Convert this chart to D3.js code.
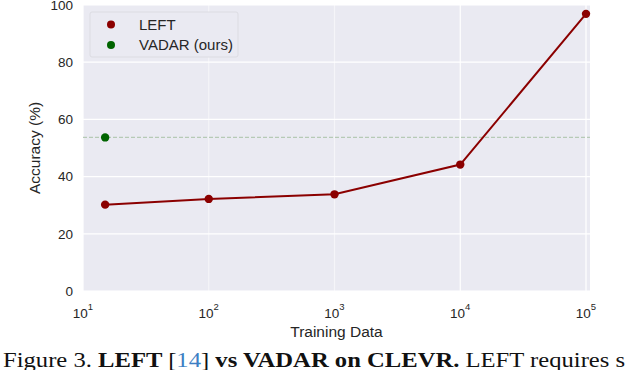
<!DOCTYPE html>
<html>
<head>
<meta charset="utf-8">
<script src="https://cdn.jsdelivr.net/npm/d3@7"></script>
<style>
  body { margin: 0; background: #fff; }
  svg { display: block; }
</style>
</head>
<body>
<div id="svg-area"></div>
<script>
// Data
var leftData = [15, 100, 1000, 10000, 100000];
var leftAcc = [30.2, 32.2, 33.8, 44.2, 96.9];
var vadarData = [15];
var vadarAcc = [53.7];
var yTicks = [0, 20, 40, 60, 80, 100];
var xTickExp = [1, 2, 3, 4, 5];
var legendLabels = ["LEFT", "VADAR (ours)"];

var svgWidth = 632;
var svgHeight = 370;
var margin = { top: 5, right: 42, bottom: 79, left: 83 };
var chartWidth = svgWidth - margin.left - margin.right;
var chartHeight = svgHeight - margin.top - margin.bottom;

var sans = "Liberation Sans, Arial, sans-serif";

var svg = d3.select("#svg-area")
  .append("svg")
  .attr("width", svgWidth)
  .attr("height", svgHeight);

var chartGroup = svg.append("g")
  .attr("transform", `translate(${margin.left}, ${margin.top})`);

// Scales
var xScale = d3.scaleLog()
  .domain([10, Math.pow(10, 5 + 4 / 125.8)])
  .range([0, chartWidth]);

var yScale = d3.scaleLinear()
  .domain([0, 100])
  .range([chartHeight, 0]);

// background
chartGroup.append("rect")
  .attr("width", chartWidth)
  .attr("height", chartHeight)
  .attr("fill", "#eaeaf2");

// grid lines
chartGroup.selectAll(".hgrid")
  .data(yTicks)
  .enter()
  .append("line")
  .attr("x1", 0)
  .attr("x2", chartWidth)
  .attr("y1", d => yScale(d))
  .attr("y2", d => yScale(d))
  .attr("stroke", "#fff")
  .attr("stroke-width", 1.2);

chartGroup.selectAll(".vgrid")
  .data(xTickExp)
  .enter()
  .append("line")
  .attr("x1", d => xScale(Math.pow(10, d)))
  .attr("x2", d => xScale(Math.pow(10, d)))
  .attr("y1", 0)
  .attr("y2", chartHeight)
  .attr("stroke", "#fff")
  .attr("stroke-opacity", d => (d == 2 || d == 3 ? 0.5 : 1))
  .attr("stroke-width", 1.2);

// y tick labels
chartGroup.selectAll(".ylab")
  .data(yTicks)
  .enter()
  .append("text")
  .attr("x", -10)
  .attr("y", d => yScale(d))
  .attr("dy", "0.35em")
  .attr("text-anchor", "end")
  .attr("font-family", sans)
  .attr("font-size", 13.5)
  .attr("fill", "#262626")
  .text(d => d);

// x tick labels 10^n
var xLab = chartGroup.selectAll(".xlab")
  .data(xTickExp)
  .enter()
  .append("text")
  .attr("x", d => xScale(Math.pow(10, d)))
  .attr("y", chartHeight + 27)
  .attr("text-anchor", "middle")
  .attr("font-family", sans)
  .attr("font-size", 13.5)
  .attr("fill", "#262626");
xLab.append("tspan").text("10");
xLab.append("tspan")
  .attr("dy", -8)
  .attr("font-size", 9.5)
  .text(d => d);

// axis titles
chartGroup.append("text")
  .attr("x", chartWidth / 2)
  .attr("y", chartHeight + 46)
  .attr("text-anchor", "middle")
  .attr("font-family", sans)
  .attr("font-size", 15.5)
  .attr("fill", "#262626")
  .text("Training Data");

chartGroup.append("text")
  .attr("transform", `translate(-43, ${chartHeight / 2}) rotate(-90)`)
  .attr("text-anchor", "middle")
  .attr("font-family", sans)
  .attr("font-size", 15.5)
  .attr("fill", "#262626")
  .text("Accuracy (%)");

// dashed reference line at VADAR accuracy
chartGroup.append("line")
  .attr("x1", 0)
  .attr("x2", chartWidth)
  .attr("y1", yScale(vadarAcc[0]))
  .attr("y2", yScale(vadarAcc[0]))
  .attr("stroke", "#b6cab6")
  .attr("stroke-width", 1.3)
  .attr("stroke-dasharray", "4,2");

// LEFT line
var leftPts = leftData.map((d, i) => [d, leftAcc[i]]);
var line = d3.line()
  .x(d => xScale(d[0]))
  .y(d => yScale(d[1]));

chartGroup.append("path")
  .datum(leftPts)
  .attr("d", line)
  .attr("fill", "none")
  .attr("stroke", "#8b0000")
  .attr("stroke-width", 2);

chartGroup.selectAll(".leftdot")
  .data(leftPts)
  .enter()
  .append("circle")
  .attr("cx", d => xScale(d[0]))
  .attr("cy", d => yScale(d[1]))
  .attr("r", 4.2)
  .attr("fill", "#8b0000");

chartGroup.selectAll(".vadardot")
  .data(vadarData.map((d, i) => [d, vadarAcc[i]]))
  .enter()
  .append("circle")
  .attr("cx", d => xScale(d[0]))
  .attr("cy", d => yScale(d[1]))
  .attr("r", 4.2)
  .attr("fill", "#006400");

// legend
var legend = chartGroup.append("g")
  .attr("transform", "translate(7, 7)");
legend.append("rect")
  .attr("width", 148)
  .attr("height", 45)
  .attr("rx", 2)
  .attr("fill", "#eaeaf2")
  .attr("stroke", "#dcdce2");
var legColors = ["#8b0000", "#006400"];
legend.selectAll(".legdot")
  .data(legendLabels)
  .enter()
  .append("circle")
  .attr("cx", 21)
  .attr("cy", (d, i) => 12.5 + i * 20.5)
  .attr("r", 4)
  .attr("fill", (d, i) => legColors[i]);
legend.selectAll(".legtext")
  .data(legendLabels)
  .enter()
  .append("text")
  .attr("x", 49)
  .attr("y", (d, i) => 12.5 + i * 20.5)
  .attr("dy", "0.35em")
  .attr("font-family", sans)
  .attr("font-size", 15)
  .attr("fill", "#262626")
  .text(d => d);

// caption (reference is a bit wider than plain Times)
var cap = svg.append("text")
  .attr("transform", "translate(3, 367) scale(1.12, 1)")
  .attr("font-family", "Liberation Serif, Times New Roman, serif")
  .attr("font-size", 22)
  .attr("fill", "#111");
cap.append("tspan").text("Figure 3. ");
cap.append("tspan").attr("font-weight", "bold").text("LEFT ");
cap.append("tspan").text("[");
cap.append("tspan").attr("fill", "#3d7fc4").text("14");
cap.append("tspan").text("] ");
cap.append("tspan").attr("font-weight", "bold").text("vs VADAR on CLEVR.");
cap.append("tspan").text(" LEFT requires s");
</script>
</body>
</html>
